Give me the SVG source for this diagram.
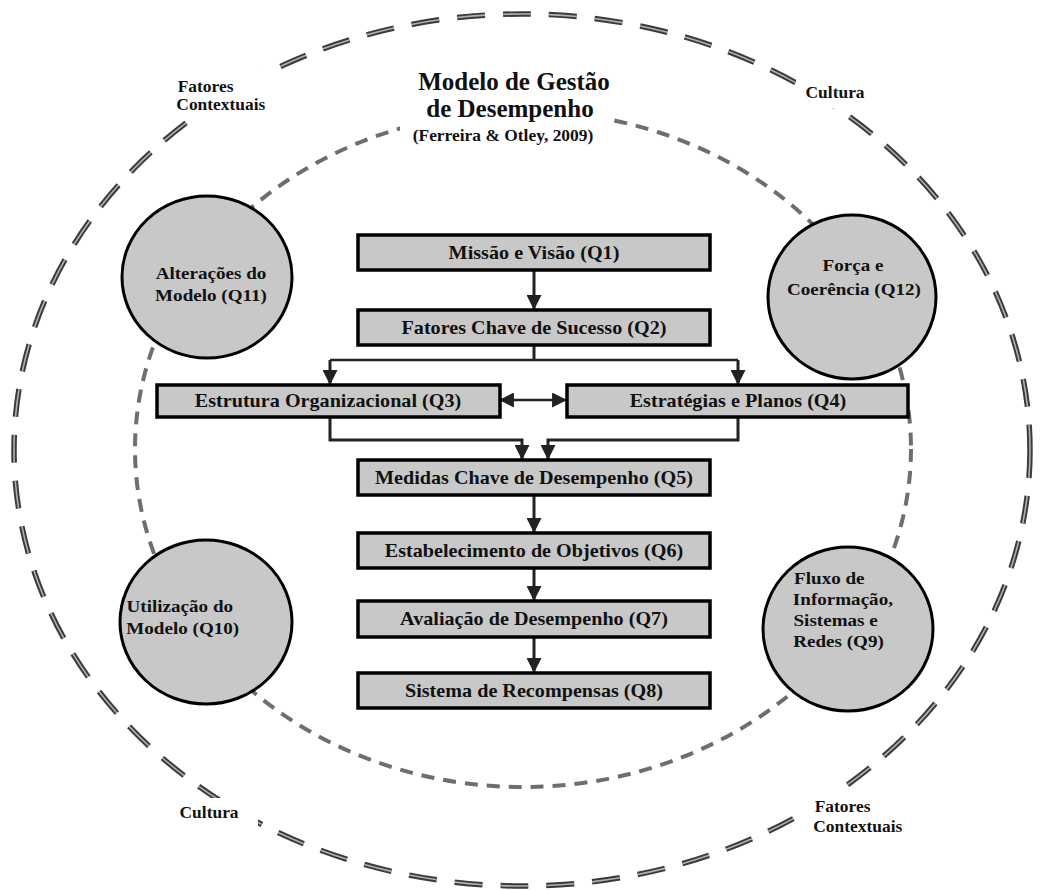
<svg xmlns="http://www.w3.org/2000/svg" width="1040" height="890" viewBox="0 0 1040 890">
<defs>
<style>
text{font-family:"Liberation Serif","Times New Roman",serif;font-weight:bold;fill:#111;}
.st{transform:scaleX(1.09);transform-box:fill-box;transform-origin:center;}
.bx{font-size:18.5px;text-anchor:middle;}
.cl{font-size:17.5px;}
.lb{font-size:16px;}
.box{fill:#c8c8c8;stroke:#000;stroke-width:3.5;}
.circ{fill:#c8c8c8;stroke:#000;stroke-width:3;}
.conn{fill:none;stroke:#222;stroke-width:3;}
.bg{fill:#fff;}
</style>
<marker id="ah" viewBox="0 0 14 14" refX="13" refY="7" markerWidth="15" markerHeight="15" markerUnits="userSpaceOnUse" orient="auto-start-reverse">
<path d="M0,0 L14,7 L0,14 Z" fill="#222"/>
</marker>
</defs>
<rect width="1040" height="890" fill="#fff"/>

<g id="outer-ring">
<ellipse cx="522" cy="450" rx="508" ry="436" fill="none" stroke="#3a3a3a" stroke-width="5.5" stroke-dasharray="28 18"/>
<ellipse cx="522" cy="450" rx="508" ry="436" fill="none" stroke="#b0b0b0" stroke-width="1.6" stroke-dasharray="28 18"/>
</g>
<g id="inner-ring">
<ellipse cx="523" cy="449" rx="388" ry="338" fill="none" stroke="#6e6e6e" stroke-width="4" stroke-dasharray="13 9"/>
</g>

<g id="labels">
<rect class="bg" x="168" y="72" width="100" height="46"/>
<text class="lb st" x="180" y="92">Fatores</text>
<text class="lb st" x="180" y="110">Contextuais</text>
<rect class="bg" x="796" y="78" width="86" height="30"/>
<text class="lb st" x="808" y="98">Cultura</text>
<rect class="bg" x="170" y="798" width="88" height="30"/>
<text class="lb st" x="182" y="818">Cultura</text>
<rect class="bg" x="804" y="792" width="108" height="46"/>
<text class="lb st" x="817" y="812">Fatores</text>
<text class="lb st" x="817" y="832">Contextuais</text>
</g>

<g id="title">
<rect class="bg" x="400" y="98" width="206" height="48"/>
<text x="514" y="90" font-size="25" text-anchor="middle">Modelo de Gestão</text>
<text x="510" y="117" font-size="25" text-anchor="middle">de Desempenho</text>
<text class="st" x="503" y="141" font-size="16" text-anchor="middle">(Ferreira &amp; Otley, 2009)</text>
</g>

<g id="connectors">
<path class="conn" d="M534,270 V309" marker-end="url(#ah)"/>
<path class="conn" d="M534,345 V360"/>
<path class="conn" d="M330,360 H738" style="stroke-width:2.5"/>
<path class="conn" d="M330,360 V384" marker-end="url(#ah)"/>
<path class="conn" d="M738,360 V384" marker-end="url(#ah)"/>
<path class="conn" d="M500,400 H566" style="stroke-width:2.5" marker-start="url(#ah)" marker-end="url(#ah)"/>
<path class="conn" d="M330,417 V440 H522 V459" marker-end="url(#ah)"/>
<path class="conn" d="M738,417 V440 H548 V459" marker-end="url(#ah)"/>
<path class="conn" d="M534,495 V532" marker-end="url(#ah)"/>
<path class="conn" d="M534,568 V600" marker-end="url(#ah)"/>
<path class="conn" d="M534,637 V672" marker-end="url(#ah)"/>
</g>

<g id="Q1"><rect class="box" x="358" y="235" width="352" height="35"/><text class="bx st" x="534" y="259">Missão e Visão (Q1)</text></g>
<g id="Q2"><rect class="box" x="358" y="310" width="352" height="35"/><text class="bx st" x="534" y="334">Fatores Chave de Sucesso (Q2)</text></g>
<g id="Q3"><rect class="box" x="157" y="385" width="343" height="32"/><text class="bx st" x="328" y="407">Estrutura Organizacional (Q3)</text></g>
<g id="Q4"><rect class="box" x="567" y="385" width="341" height="32"/><text class="bx st" x="738" y="407">Estratégias e Planos (Q4)</text></g>
<g id="Q5"><rect class="box" x="358" y="460" width="352" height="35"/><text class="bx st" x="534" y="484">Medidas Chave de Desempenho (Q5)</text></g>
<g id="Q6"><rect class="box" x="358" y="533" width="352" height="35"/><text class="bx st" x="534" y="557">Estabelecimento de Objetivos (Q6)</text></g>
<g id="Q7"><rect class="box" x="358" y="601" width="352" height="36"/><text class="bx st" x="534" y="625">Avaliação de Desempenho (Q7)</text></g>
<g id="Q8"><rect class="box" x="358" y="673" width="352" height="35"/><text class="bx st" x="534" y="697">Sistema de Recompensas (Q8)</text></g>

<g id="Q11"><ellipse class="circ" cx="207" cy="277" rx="85" ry="81"/>
<text class="cl st" x="211" y="279" text-anchor="middle">Alterações do</text>
<text class="cl st" x="211" y="301" text-anchor="middle">Modelo (Q11)</text></g>
<g id="Q12"><ellipse class="circ" cx="852" cy="297" rx="84" ry="82"/>
<text class="cl st" x="853" y="271" text-anchor="middle">Força e</text>
<text class="cl st" x="854" y="295" text-anchor="middle">Coerência (Q12)</text></g>
<g id="Q10"><ellipse class="circ" cx="206" cy="622" rx="86" ry="82"/>
<text class="cl st" x="131" y="612">Utilização do</text>
<text class="cl st" x="131" y="634">Modelo (Q10)</text></g>
<g id="Q9"><ellipse class="circ" cx="848" cy="629" rx="85" ry="82"/>
<text class="cl st" x="797" y="584">Fluxo de</text>
<text class="cl st" x="797" y="605">Informação,</text>
<text class="cl st" x="797" y="626">Sistemas e</text>
<text class="cl st" x="797" y="647">Redes (Q9)</text></g>
</svg>
